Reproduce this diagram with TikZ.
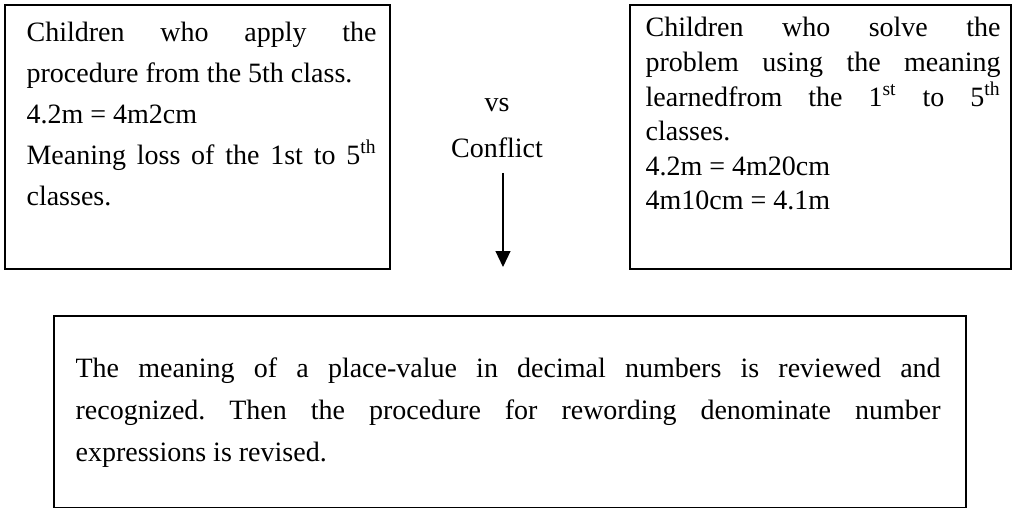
\documentclass[tikz,border=0pt]{standalone}
\usepackage{fontspec}
\setmainfont{Liberation Serif}
\usetikzlibrary{positioning, arrows.meta}
\frenchspacing

\begin{document}
\begin{tikzpicture}[x=0.5pt,y=-0.5pt,box node/.style={draw,line width=1pt,inner sep=0pt,anchor=north west},
	text node/.style={inner sep=0pt,anchor=base west,align=justify},
	label node/.style={inner sep=0pt,anchor=base,font=\fontsize{14}{17}\selectfont},
	>={Triangle[width=7.5pt,length=8pt]},semithick]
	\useasboundingbox (0,0) rectangle (1013,508);
	% the three boxes
	\node[box node,minimum width=192.5pt,minimum height=132pt] (left) at (4,4) {};
	\node[box node,minimum width=190.5pt,minimum height=132pt] (right) at (629,4) {};
	\node[box node,minimum width=456pt,minimum height=96pt] (bottom) at (53,315) {};
	
	\node[text node,text width=175pt,font=\fontsize{14}{20.4}\selectfont] (lefttext) at (26,42)
	{Children who apply the\linebreak procedure from the 5th class.\\ 4.2m = 4m2cm\\
	Meaning loss of the 1st to 5\textsuperscript{th}\linebreak classes.};
	\node[text node,text width=177.5pt,font=\fontsize{14}{17.3}\selectfont] (righttext) at (645,37)
	{Children who solve the\linebreak problem using the meaning\linebreak
	learnedfrom the 1\textsuperscript{st} to 5\textsuperscript{th}\linebreak classes.\\
	4.2m = 4m20cm\\ 4m10cm = 4.1m};
	\node[text node,text width=432.5pt,font=\fontsize{14}{21.25}\selectfont] (bottomtext) at (75,377)
	{The meaning of a place-value in decimal numbers is reviewed and\linebreak
	recognized. Then the procedure for rewording denominate number\linebreak
	expressions is revised.};
	
	% middle labels and arrow
	\node[label node] (vs) at (497,112) {vs};
	\node[label node] (conflict) at (497,158) {Conflict};
	\coordinate (arrowend) at (503,267);
	\draw[->] ([yshift=-7pt]conflict.south -| arrowend) -- (arrowend);
\end{tikzpicture}
\end{document}
